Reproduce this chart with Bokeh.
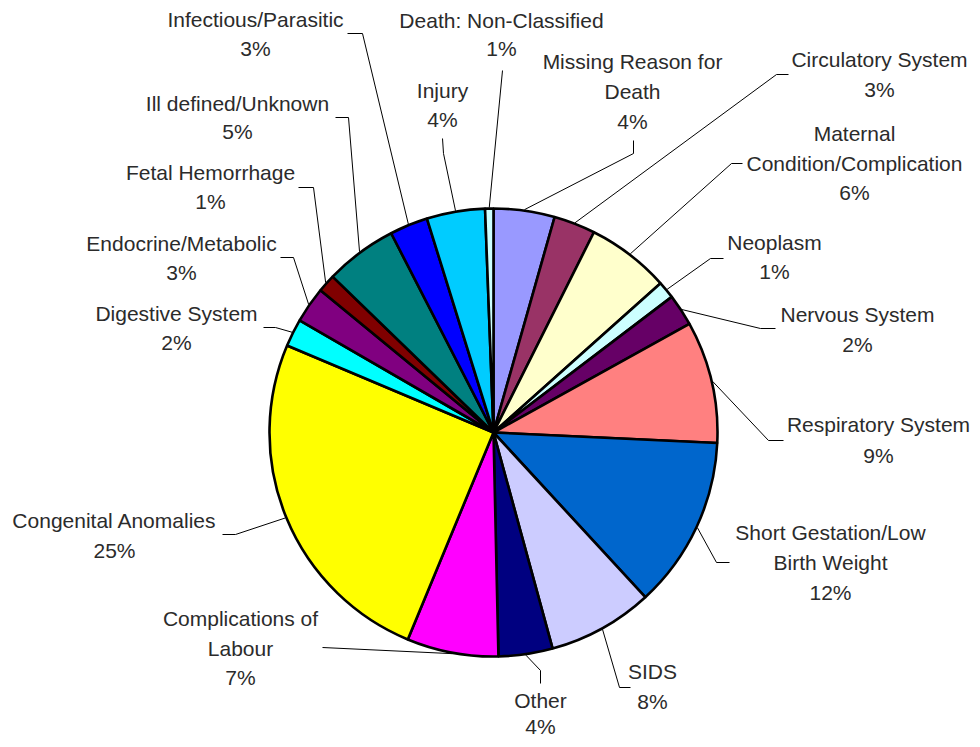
import math
from bokeh.plotting import figure
from bokeh.models import Range1d, ColumnDataSource
from bokeh.core.properties import value
from bokeh.embed import file_html
from bokeh.resources import INLINE

# ---- data (clockwise from 12 o'clock) ----
categories = [
    "Missing Reason for Death", "Circulatory System", "Maternal Condition/Complication",
    "Neoplasm", "Nervous System", "Respiratory System", "Short Gestation/Low Birth Weight",
    "SIDS", "Other", "Complications of Labour", "Congenital Anomalies", "Digestive System",
    "Endocrine/Metabolic", "Fetal Hemorrhage", "Ill defined/Unknown", "Infectious/Parasitic",
    "Injury", "Death: Non-Classified",
]
label_lines = [
    ["Missing Reason for", "Death"], ["Circulatory System"], ["Maternal", "Condition/Complication"],
    ["Neoplasm"], ["Nervous System"], ["Respiratory System"], ["Short Gestation/Low", "Birth Weight"],
    ["SIDS"], ["Other"], ["Complications of", "Labour"], ["Congenital Anomalies"], ["Digestive System"],
    ["Endocrine/Metabolic"], ["Fetal Hemorrhage"], ["Ill defined/Unknown"], ["Infectious/Parasitic"],
    ["Injury"], ["Death: Non-Classified"],
]
values = [4.4, 3.0, 6.0, 1.25, 2.3, 8.8, 12.4, 7.6, 3.9, 6.6, 25.1, 2.0, 2.6, 1.3, 5.2, 2.75, 4.2, 0.6]
colors = ["#9999FF", "#993366", "#FFFFCC", "#CCFFFF", "#660066", "#FF8080", "#0066CC", "#CCCCFF",
          "#000080", "#FF00FF", "#FFFF00", "#00FFFF", "#800080", "#800000", "#008080", "#0000FF",
          "#00CCFF", "#CCFFFF"]

# ---- layout (picture pixel coordinates, origin top-left) ----
PW, PH = 972, 739
CX, CY, R = 493, 432, 224
# label centre x, first line y, line spacing
label_pos = [(632, 61), (879, 59), (854, 133), (774, 242), (857, 314), (878, 424), (830, 532),
             (652, 671), (540, 700), (240, 618), (114, 520), (176, 313), (181, 243), (210, 172),
             (237, 103), (255, 19), (442, 90), (501, 20)]
line_gap = [30, 30, 29.5, 29, 30, 31, 30, 30, 26, 29.5, 30, 29, 29, 29, 28, 29, 29, 28]
# leader elbow points before reaching the pie edge
leader_elbows = [
    [(633, 140), (633, 153)], [(788, 74), (776, 74)], [(742, 163), (731, 163)],
    [(723, 258), (710, 258)], [(775, 328), (760, 328)], [(783, 440), (768, 440)],
    [(729, 562), (716, 562)], [(630, 687), (619, 687)], [(540, 683), (540, 670)],
    [(322, 647)], [(222, 534), (235, 534)], [(263, 327), (275, 327)],
    [(280, 257), (293, 257)], [(298, 187), (313, 187)], [(335, 117), (348, 117)],
    [(347, 33), (362, 33)], [(442, 138), (443, 153)], [(502, 70)],
]

def sy(y):
    return PH - y

total = sum(values)
starts, ends, mids = [], [], []
acc = 0.0
for v in values:
    a0 = acc / total * 2 * math.pi
    acc += v
    a1 = acc / total * 2 * math.pi
    starts.append(math.pi / 2 - a0)
    ends.append(math.pi / 2 - a1)
    mids.append((a0 + a1) / 2)

p = figure(width=PW, height=PH, x_range=Range1d(0, PW), y_range=Range1d(0, PH),
           output_backend="svg", toolbar_location=None, min_border=0)
p.axis.visible = False
p.grid.visible = False
p.outline_line_color = None
p.background_fill_color = "white"
p.border_fill_color = "white"

src = ColumnDataSource(dict(x=[CX] * len(values), y=[sy(CY)] * len(values),
                            start=starts, end=ends, color=colors))
p.wedge(x="x", y="y", radius=R, start_angle="start", end_angle="end", direction="clock",
        fill_color="color", line_color="black", line_width=2.6, source=src)

# leader lines
xs, ys = [], []
for elbows, m in zip(leader_elbows, mids):
    ex = CX + (R + 1) * math.sin(m)
    ey = CY - (R + 1) * math.cos(m)
    pts = list(elbows) + [(ex, ey)]
    xs.append([q[0] for q in pts])
    ys.append([sy(q[1]) for q in pts])
p.multi_line(xs, ys, line_color="black", line_width=1)

# labels
tx, ty, tt = [], [], []
for lines, v, (lx, ly), g in zip(label_lines, values, label_pos, line_gap):
    pct = f"{round(v / total * 100)}%"
    for i, t in enumerate(lines + [pct]):
        tx.append(lx)
        ty.append(sy(ly + i * g))
        tt.append(t)
p.text(x=tx, y=ty, text=tt, text_align="center", text_baseline="middle",
       text_font=value("Liberation Sans"), text_font_size="21px", text_color="#2b2b2b")

open("out.html", "w").write(file_html(p, INLINE))
